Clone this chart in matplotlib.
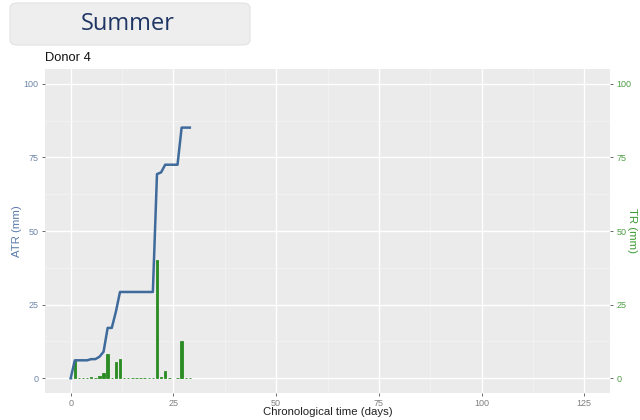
import numpy as np
import matplotlib
matplotlib.use("Agg")
import matplotlib.pyplot as plt
from matplotlib.patches import FancyBboxPatch
from matplotlib.ticker import MultipleLocator

plt.rcParams["font.family"] = ["Liberation Sans", "DejaVu Sans"]

# Daily rainfall-style record for Donor 4 (days since start)
days = [0, 1, 2, 3, 4, 5, 6, 7, 8, 9, 10, 11, 12, 13, 14, 15, 16, 17, 18,
        19, 20, 21, 22, 23, 24, 26, 27, 28, 29]
tr_mm = [0, 6.1, 0, 0, 0, 0.4, 0, 0.8, 1.7, 8.1, 0, 5.5, 6.7, 0, 0, 0, 0, 0, 0,
         0, 0, 40.0, 0.6, 2.6, 0, 0, 12.6, 0, 0]
atr_mm = [0, 6.1, 6.1, 6.1, 6.1, 6.5, 6.5, 7.3, 9.0, 17.1, 17.1, 22.6, 29.3, 29.3,
          29.3, 29.3, 29.3, 29.3, 29.3, 29.3, 29.3, 69.3, 69.9, 72.5, 72.5, 72.5,
          85.1, 85.1, 85.1]

x_ticks = [0, 25, 50, 75, 100, 125]
y_ticks = [0, 25, 50, 75, 100]

line_color = "#3F6A9C"
bar_color = "#2A8C22"
panel_bg = "#EBEBEB"

fig = plt.figure(figsize=(6.4, 4.2), dpi=100)
fig.patch.set_facecolor("white")

ax = fig.add_axes([45 / 640, 27 / 420, 565 / 640, (393 - 69) / 420])
ax.set_facecolor(panel_bg)
ax.set_xlim(-6.25, 131.25)
ax.set_ylim(-5, 105)
ax.set_xticks(x_ticks)
ax.set_yticks(y_ticks)
ax.xaxis.set_minor_locator(MultipleLocator(12.5))
ax.yaxis.set_minor_locator(MultipleLocator(12.5))
ax.grid(which="major", color="white", linewidth=1.0)
ax.grid(which="minor", color="#F4F4F4", linewidth=0.5)
ax.set_axisbelow(True)
for s in ax.spines.values():
    s.set_visible(False)
ax.tick_params(which="minor", length=0)
ax.tick_params(axis="x", which="major", length=2.5, width=0.6, color="#555555",
               labelsize=6.5, labelcolor="#7F7F7F", pad=1.5)
ax.tick_params(axis="y", which="major", length=2.5, width=0.6, color="#555555",
               labelsize=6.5, labelcolor="#6E86A8", pad=2)

ax2 = ax.twinx()
ax2.set_ylim(-5, 105)
ax2.set_yticks(y_ticks)
for s in ax2.spines.values():
    s.set_visible(False)
ax2.tick_params(axis="y", length=2.5, width=0.6, color="#555555",
                labelsize=6.5, labelcolor="#4E9E45", pad=2)

# Daily bars (TR) and accumulated curve (ATR)
ax2.bar(days, tr_mm, width=0.6, color=bar_color, edgecolor=bar_color,
        linewidth=0.6, zorder=2)
ax2.plot(days, atr_mm, color=line_color, linewidth=1.8, zorder=3,
         solid_joinstyle="round")

ax.set_xlabel("Chronological time (days)", fontsize=8.2, color="#222222",
              va="center")
ax.xaxis.set_label_coords(0.5, (393 - 412) / 324)
ax.set_ylabel("ATR (mm)", fontsize=8.2, color="#5A7BAA", ha="center", va="center")
ax.yaxis.set_label_coords((17 - 45) / 565, 0.5)
ax2.set_ylabel("TR (mm)", fontsize=8.2, color="#3E9A35", rotation=270,
               ha="center", va="center")
ax2.yaxis.set_label_coords((632 - 45) / 565, 0.5)

fig.text(45 / 640, 1 - 58 / 420, "Donor 4", fontsize=9.3, color="#111111",
         va="center", ha="left")

# Season header box
box = FancyBboxPatch((10 / 640, 1 - 45 / 420), 240 / 640, 42 / 420,
                     boxstyle="round,pad=0,rounding_size=0.012",
                     transform=fig.transFigure, facecolor="#EEEEEE",
                     edgecolor="#E2E2E2", linewidth=0.8)
fig.patches.append(box)
fig.text(128 / 640, 1 - 24 / 420, "Summer", fontsize=17, color="#1F3564",
         ha="center", va="center", family="Open Sans")

fig.savefig("out.png", dpi=100)
